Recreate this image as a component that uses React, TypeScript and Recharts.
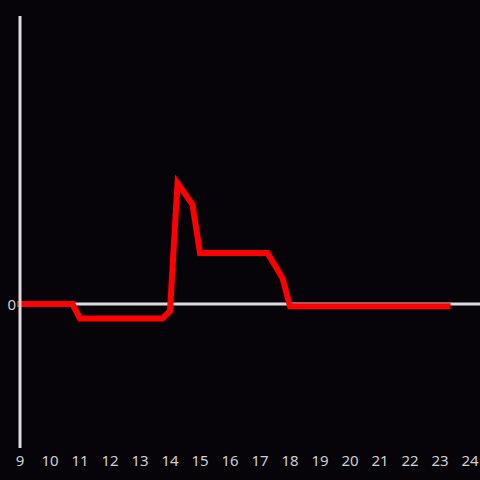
import React from 'react';
import { LineChart, Line, XAxis, YAxis, ReferenceLine } from 'recharts';

const hours = [9, 10.75, 11, 13.75, 14, 14.25, 14.75, 15, 17.25, 17.75, 18, 23.25];
const values = [0, 0, -0.1, -0.1, -0.05, 0.84, 0.69, 0.354, 0.354, 0.18, -0.015, -0.015];
const xTicks = [9, 10, 11, 12, 13, 14, 15, 16, 17, 18, 19, 20, 21, 22, 23, 24];
const yTicks = [0];

const data = hours.map((h, i) => ({ h, v: values[i] }));

const XTick = (props: any) => {
  const { x, y, payload } = props;
  return (
    <text x={x} y={y + 18} textAnchor="middle" fill="#d0d0d0" fontSize={15} fontFamily="Noto Sans">
      {payload.value}
    </text>
  );
};

const YTick = (props: any) => {
  const { x, y, payload } = props;
  return (
    <text x={x - 4} y={y + 5.5} textAnchor="end" fill="#d0d0d0" fontSize={15} fontFamily="Noto Sans">
      {payload.value}
    </text>
  );
};

export default function App() {
  return (
    <div style={{ position: 'absolute', left: 0, top: 0, width: 480, height: 480, background: '#060409' }}>
      <LineChart width={480} height={480} data={data} margin={{ top: 16, right: 10, bottom: 0, left: 0 }}>
        <XAxis
          dataKey="h"
          type="number"
          domain={[9, 24]}
          ticks={xTicks}
          axisLine={false}
          tickLine={false}
          tickSize={0}
          tickMargin={0}
          height={32}
          interval={0}
          tick={<XTick />}
        />
        <YAxis
          type="number"
          domain={[-1, 2]}
          ticks={yTicks}
          width={20}
          axisLine={{ stroke: '#dcdcdc', strokeWidth: 3 }}
          tickLine={false}
          tickSize={0}
          tickMargin={0}
          tick={<YTick />}
        />
        <ReferenceLine
          segment={[{ x: 9, y: 0 }, { x: 24.4, y: 0 }]}
          ifOverflow="visible"
          stroke="#dcdcdc"
          strokeWidth={3}
        />
        <Line
          dataKey="v"
          type="linear"
          stroke="#ff0000"
          strokeWidth={6}
          strokeLinecap="square"
          dot={false}
          activeDot={false}
          isAnimationActive={false}
        />
      </LineChart>
    </div>
  );
}
